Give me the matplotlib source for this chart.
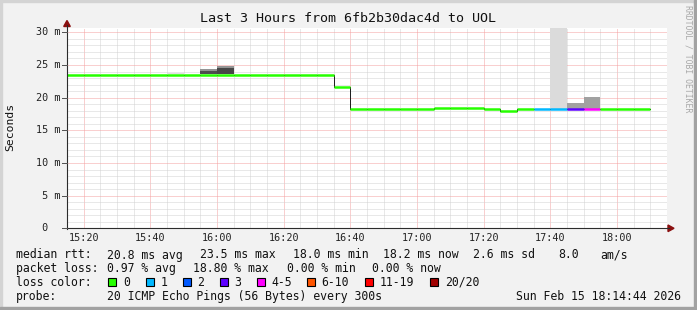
import matplotlib
matplotlib.use("Agg")
import matplotlib.pyplot as plt
import matplotlib.transforms as mtransforms
from matplotlib.patches import Rectangle, Polygon
from matplotlib.lines import Line2D
from matplotlib.ticker import MultipleLocator

# ---------------- data ----------------
title = "Last 3 Hours from 6fb2b30dac4d to UOL"
ylabel = "Seconds"
x_start, x_end = "15:15", "18:15"
bin_len = 5  # minutes per sample
times = ["15:15", "15:20", "15:25", "15:30", "15:35", "15:40", "15:45", "15:50", "15:55",
         "16:00", "16:05", "16:10", "16:15", "16:20", "16:25", "16:30", "16:35", "16:40",
         "16:45", "16:50", "16:55", "17:00", "17:05", "17:10", "17:15", "17:20", "17:25",
         "17:30", "17:35", "17:40", "17:45", "17:50", "17:55", "18:00", "18:05"]
median_ms = [23.5, 23.5, 23.5, 23.5, 23.5, 23.5, 23.5, 23.5, 23.5,
             23.5, 23.5, 23.5, 23.5, 23.5, 23.5, 23.5, 21.6, 18.3,
             18.3, 18.3, 18.3, 18.3, 18.4, 18.4, 18.4, 18.25, 18.0,
             18.2, 18.2, 18.2, 18.2, 18.2, 18.2, 18.2, 18.2]
loss_count = [0, 0, 0, 0, 0, 0, 0, 0, 0,
              0, 0, 0, 0, 0, 0, 0, 0, 0,
              0, 0, 0, 0, 0, 0, 0, 0, 0,
              0, 1, 1, 3, 4, 0, 0, 0]

# smoke (spread of individual pings) layers
smoke_time = ["15:45", "15:55", "15:55", "16:00", "16:00", "17:40", "17:45", "17:50"]
smoke_lo = [23.6, 23.6, 24.05, 23.6, 24.55, 18.3, 18.3, 18.3]
smoke_hi = [23.8, 24.05, 24.35, 24.55, 24.85, 40.0, 19.13, 20.05]
smoke_density = [0.12, 0.7, 0.42, 0.72, 0.42, 0.14, 0.37, 0.37]

yticks_ms = [0, 5, 10, 15, 20, 25, 30]
ytick_labels = [" 0", " 5 m", "10 m", "15 m", "20 m", "25 m", "30 m"]
xtick_times = ["15:20", "15:40", "16:00", "16:20", "16:40", "17:00", "17:20", "17:40", "18:00"]

loss_labels = ["0", "1", "2", "3", "4-5", "6-10", "11-19", "20/20"]
loss_upper = [0, 1, 2, 3, 5, 10, 19, 20]
loss_colors = ["#26ff00", "#00b8ff", "#0059ff", "#5e00ff", "#ff00ff", "#ff5500", "#ff0000", "#a00000"]

rtt_stats = ["20.8 ms avg", "23.5 ms max", "18.0 ms min", "18.2 ms now", "2.6 ms sd", "8.0", "am/s"]
loss_stats = ["0.97 % avg", "18.80 % max", "0.00 % min", "0.00 % now"]
probe_text = "20 ICMP Echo Pings (56 Bytes) every 300s"
stamp_text = "Sun Feb 15 18:14:44 2026"
watermark = "RRDTOOL / TOBI OETIKER"


def tmin(s):
    h, m = s.split(":")
    return int(h) * 60 + int(m)


def loss_color(n):
    for up, c in zip(loss_upper, loss_colors):
        if n <= up:
            return c
    return loss_colors[-1]


# ---------------- figure ----------------
W, H, DPI = 697, 310, 100
MONO = "DejaVu Sans Mono"
plt.rcParams["font.family"] = [MONO, "DejaVu Sans"]

fig = plt.figure(figsize=(W / DPI, H / DPI), dpi=DPI, facecolor="#f2f2f2")

L, R, B, T = 67, 667, 228.3, 28  # pixel geometry of plot area (from top)
ax = fig.add_axes([L / W, 1 - B / H, (R - L) / W, (B - T) / H])
ax.set_facecolor("white")
ax.set_xlim(tmin(x_start), tmin(x_end))
ax.set_ylim(0, (B - T) / 6.533)
for s in ax.spines.values():
    s.set_visible(False)

ax.xaxis.set_major_locator(MultipleLocator(20))
ax.xaxis.set_minor_locator(MultipleLocator(5))
ax.yaxis.set_major_locator(MultipleLocator(5))
ax.yaxis.set_minor_locator(MultipleLocator(1))
ax.tick_params(which="both", length=0, labelbottom=False, labelleft=False)
ax.grid(which="minor", color="#d2d2d2", linestyle=(0, (1, 1)), linewidth=0.72)
ax.grid(which="major", color="#f4a0a0", linestyle=(0, (1, 1)), linewidth=0.72)
ax.set_axisbelow(True)

# smoke
for t, lo, hi, d in zip(smoke_time, smoke_lo, smoke_hi, smoke_density):
    g = int(round(255 * (1 - d)))
    ax.add_patch(Rectangle((tmin(t), lo), bin_len, hi - lo,
                           facecolor=(g / 255, g / 255, g / 255), edgecolor="none", zorder=2))

# median: dark step connector then loss-coloured segments
starts = [tmin(t) for t in times]
edges = starts + [starts[-1] + bin_len]
ax.step(edges, median_ms + [median_ms[-1]], where="post", color="#202020",
        linewidth=0.72, zorder=3)
ax.hlines(median_ms, starts, [s + bin_len for s in starts],
          colors=[loss_color(n) for n in loss_count], linewidth=1.8, zorder=4)

# axes lines and arrows (pixel space)
px = lambda x, y: (x / W, 1 - y / H)
axis_col = "#2c2c2c"
fig.add_artist(Line2D([L / W, L / W], [1 - (B + 0.5) / H, 1 - 25 / H], color=axis_col, lw=0.8))
fig.add_artist(Line2D([L / W, 669 / W], [1 - B / H, 1 - B / H], color=axis_col, lw=0.8))
fig.add_artist(Polygon([px(L, 20.5), px(L - 3.3, 26.5), px(L + 3.3, 26.5)],
                       closed=True, color="#8b1010", transform=fig.transFigure))
fig.add_artist(Polygon([px(674, B), px(668, B - 3.3), px(668, B + 3.3)],
                       closed=True, color="#8b1010", transform=fig.transFigure))

# y tick marks and labels
ytr = mtransforms.blended_transform_factory(fig.transFigure, ax.transData)
for v, lab in zip(yticks_ms, ytick_labels):
    fig.add_artist(Line2D([62 / W, L / W], [v, v], transform=ytr, color="#555555", lw=0.72))
    fig.text(36 / W, v, lab, transform=ytr, ha="left", va="center",
             fontsize=7.3, family=MONO, color="#222222")

# x tick labels
xtr = mtransforms.blended_transform_factory(ax.transData, fig.transFigure)
for t in xtick_times:
    fig.text(tmin(t), 1 - 238 / H, t, transform=xtr, ha="center", va="center",
             fontsize=7.3, family=MONO, color="#222222")

# title, y label, watermark
fig.text(348.5 / W, 1 - 19 / H, title, ha="center", va="center", fontsize=9.6,
         family=MONO, color="#111111")
fig.text(10 / W, 1 - 127 / H, ylabel, rotation=90, ha="center", va="center",
         fontsize=8.2, family=MONO, color="#111111")
fig.text(688 / W, 1 - 59 / H, watermark, rotation=270, ha="center", va="center",
         fontsize=5.9, family=MONO, color="#a8a8a8")

# legend area
LF = 8.3
rows_y = [255, 268.5, 282, 296.5]


def ltext(x, y, s):
    fig.text(x / W, 1 - y / H, s, ha="left", va="center", fontsize=LF, family=MONO,
             color="#111111")


ltext(16, rows_y[0], "median rtt:")
for x, s in zip([107.3, 200.3, 293.3, 382.7, 473.3, 558, 600], rtt_stats):
    ltext(x, rows_y[0], s)
ltext(16, rows_y[1], "packet loss:")
for x, s in zip([107.3, 193.3, 286.7, 372.3], loss_stats):
    ltext(x, rows_y[1], s)
ltext(16, rows_y[2], "loss color:")
box_x = [108.3, 145.5, 182.7, 219.7, 256.7, 306.7, 365, 430]
for bx, lab, col in zip(box_x, loss_labels, loss_colors):
    fig.add_artist(Rectangle(px(bx, rows_y[2] + 4.3), 8 / W, 8.6 / H, facecolor=col,
                             edgecolor="black", linewidth=0.8, transform=fig.transFigure))
    ltext(bx + 14.8, rows_y[2], lab)
ltext(16, rows_y[3], "probe:")
ltext(107.3, rows_y[3], probe_text)
fig.text(680.5 / W, 1 - rows_y[3] / H, stamp_text, ha="right", va="center", fontsize=LF,
         family=MONO, color="#111111")

# image bevel frame
fig.add_artist(Rectangle((0, 1 - 2 / H), 1, 2 / H, color="#d4d4d4", transform=fig.transFigure))
fig.add_artist(Rectangle((0, 0), 2 / W, 1, color="#d4d4d4", transform=fig.transFigure))
fig.add_artist(Rectangle((0, 0), 1, 3 / H, color="#a2a2a2", transform=fig.transFigure))
fig.add_artist(Rectangle((1 - 3 / W, 0), 3 / W, 1, color="#a2a2a2", transform=fig.transFigure))

fig.savefig("out.png", dpi=DPI, facecolor=fig.get_facecolor())
